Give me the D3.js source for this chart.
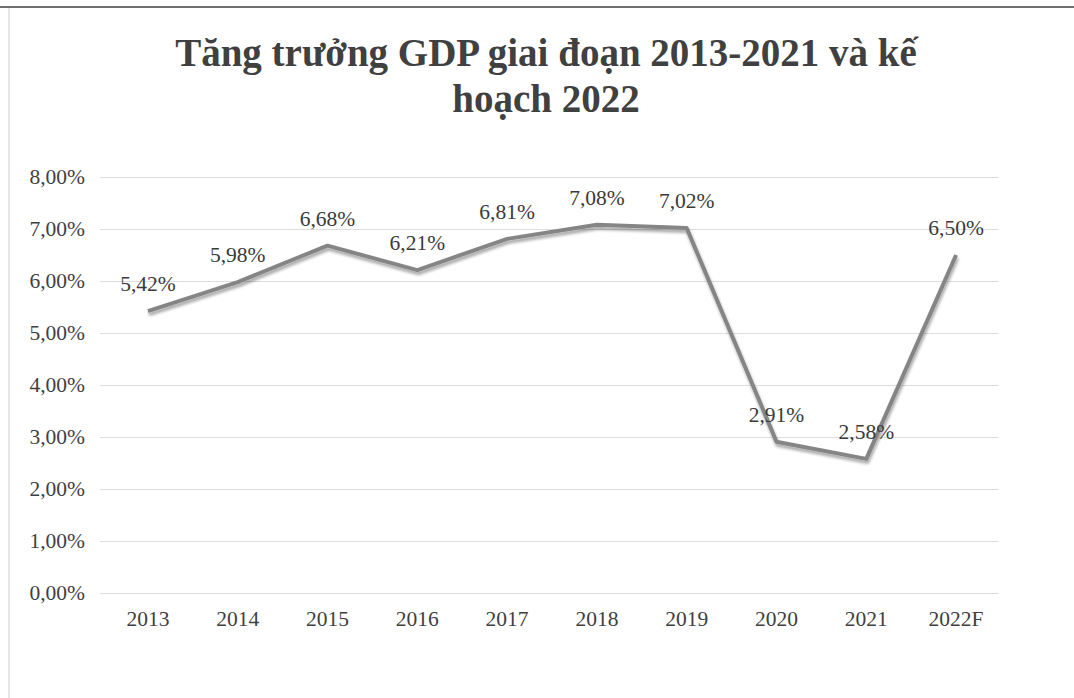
<!DOCTYPE html>
<html>
<head>
<meta charset="utf-8">
<script src="https://cdn.jsdelivr.net/npm/d3@7"></script>
<style>
  html, body { margin: 0; padding: 0; background: #ffffff; }
  svg { display: block; }
</style>
</head>
<body>
<svg id="chart" width="1074" height="698"></svg>
<script>
// GDP growth by year, with the 2022 target
const years = ["2013", "2014", "2015", "2016", "2017", "2018", "2019", "2020", "2021", "2022F"];
const growth = [5.42, 5.98, 6.68, 6.21, 6.81, 7.08, 7.02, 2.91, 2.58, 6.50];
const yTicks = [0, 1, 2, 3, 4, 5, 6, 7, 8];
const titleLines = ["Tăng trưởng GDP giai đoạn 2013-2021 và kế", "hoạch 2022"];

const W = 1074, H = 698;
const svg = d3.select("#chart");
const serif = "'Liberation Serif', 'Times New Roman', serif";

// frame edges
svg.append("line").attr("x1", 0).attr("x2", W).attr("y1", 7).attr("y2", 7)
  .attr("stroke", "#6e6e6e").attr("stroke-width", 2);
svg.append("line").attr("x1", 9).attr("x2", 9).attr("y1", 8).attr("y2", H)
  .attr("stroke", "#d4d4d4").attr("stroke-width", 1.2);

const x = d3.scaleBand().domain(years).range([103, 1001]).padding(0);
const y = d3.scaleLinear().domain([0, 8]).range([593, 177]);
const cx = d => x(d) + x.bandwidth() / 2;

const fmt = v => d3.format(".2f")(v).replace(".", ",") + "%";

// title
svg.append("g").selectAll("text").data(titleLines).join("text")
  .attr("x", 546).attr("y", (d, i) => 66 + i * 46)
  .attr("text-anchor", "middle")
  .attr("font-family", serif).attr("font-weight", "bold").attr("font-size", 39)
  .attr("fill", "#404040")
  .text(d => d);

// horizontal gridlines and y-axis labels
const yAxis = d3.axisLeft(y).tickValues(yTicks)
  .tickSize(-(998 - 100)).tickPadding(15)
  .tickFormat(v => fmt(v));
const gy = svg.append("g").attr("transform", "translate(100,0)").call(yAxis);
gy.select(".domain").remove();
gy.selectAll(".tick line").attr("stroke", "#dddddd").attr("stroke-width", 1);
gy.selectAll(".tick text")
  .attr("font-family", serif).attr("font-size", 21.5).attr("fill", "#3f3f3f");

// category axis labels
const xAxis = d3.axisBottom(x).tickSize(0).tickPadding(18);
const gx = svg.append("g").attr("transform", "translate(0,593)").call(xAxis);
gx.select(".domain").remove();
gx.selectAll(".tick text")
  .attr("font-family", serif).attr("font-size", 21.5).attr("fill", "#3f3f3f");

// soft shadow under the series line
const defs = svg.append("defs");
const f = defs.append("filter").attr("id", "shadow")
  .attr("x", "-5%").attr("y", "-10%").attr("width", "110%").attr("height", "130%");
f.append("feGaussianBlur").attr("in", "SourceAlpha").attr("stdDeviation", 1.6).attr("result", "b");
f.append("feOffset").attr("in", "b").attr("dx", 1).attr("dy", 2.5).attr("result", "o");
f.append("feComponentTransfer").attr("in", "o").attr("result", "s")
  .append("feFuncA").attr("type", "linear").attr("slope", 0.35);
const m = f.append("feMerge");
m.append("feMergeNode").attr("in", "s");
m.append("feMergeNode").attr("in", "SourceGraphic");

const pts = years.map((yr, i) => ({ yr, v: growth[i] }));
const line = d3.line().x(d => cx(d.yr)).y(d => y(d.v));

svg.append("path").datum(pts)
  .attr("d", line)
  .attr("fill", "none")
  .attr("stroke", "#858585")
  .attr("stroke-width", 4)
  .attr("stroke-linejoin", "round")
  .attr("filter", "url(#shadow)");

// value labels above each point
svg.append("g").selectAll("text").data(pts).join("text")
  .attr("x", d => cx(d.yr))
  .attr("y", d => y(d.v) - 20)
  .attr("text-anchor", "middle")
  .attr("font-family", serif).attr("font-size", 21.5)
  .attr("fill", "#3a3a3a")
  .text(d => fmt(d.v));
</script>
</body>
</html>
